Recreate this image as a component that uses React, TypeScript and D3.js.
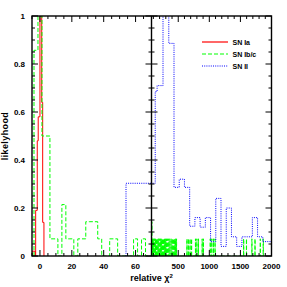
import React, { useEffect, useRef } from 'react';
import * as d3 from 'd3';

// SN Ia, fine bins near zero
const redEdges = [-5, -3, -2.7, -1.7, -1.1, 0, 1.1, 1.7, 2.5];
const redValues = [0.02, 0, 0.19, 0.48, 0.58, 1, 0.64, 0.14];

// SN Ib/c, counts in bins of 2.5 starting at -3.75 (normalised by 14)
const greenStart = -3.75;
const greenWidth = 2.5;
const greenTotal = 14;
const greenCounts = [12, 14, 7, 7, 1, 1, 0, 3, 1, 1, 0, 1, 1, 2, 2, 2, 1, 0, 0, 1, 1, 0, 0, 0, 0, 1, 0, 1, 0, 0];
// isolated single-count bins further out (relative chi2 values)
const greenSingles = [
  82, 90, 100, 112, 125, 136, 150, 163, 178, 190, 205, 218, 232, 248, 262, 280, 296, 312, 330, 348, 365,
  385, 402, 420, 438, 455, 472, 640, 662, 690, 714, 778, 800, 824, 884, 904, 1016, 1040, 1068, 1092,
  1552, 1598, 1686, 1734, 1820, 1868,
];
const greenDoubles = [76];

// SN II, coarse bins
const blueEdges = [
  54, 130, 160, 255, 348, 432, 516, 600, 684, 768, 852, 936, 1020, 1104, 1188, 1272, 1356, 1440, 1524,
  1608, 1692, 1776, 1860, 1944, 2028,
];
const blueValues = [
  0.303, 0.685, 0.71, 1.05, 0.886, 0.286, 0.32, 0.286, 0.124, 0.16, 0.12, 0.16, 0.06, 0.24, 0.04, 0.2,
  0.08, 0.04, 0.08, 0.08, 0.16, 0.08, 0.06, 0.06,
];

const yTicks = [0, 0.2, 0.4, 0.6, 0.8, 1];
const yTickLabels = ['0', '0.2', '0.4', '0.6', '0.8', '1'];
const leftTicks = [0, 20, 40, 60];
const rightTicks = [500, 1000, 1500, 2000];

const legendLabels = ['SN Ia', 'SN Ib/c', 'SN II'];
const font = "'Liberation Sans', Arial, sans-serif";

const stepPoints = (edges: number[], values: number[]) => {
  const pts: [number, number][] = [[edges[0], 0]];
  values.forEach((v, i) => {
    pts.push([edges[i], v]);
    pts.push([edges[i + 1], v]);
  });
  pts.push([edges[edges.length - 1], 0]);
  return pts;
};

const App = () => {
  const svgRef = useRef<SVGSVGElement>(null);

  useEffect(() => {
    const svg = d3.select(svgRef.current);
    svg.selectAll('*').remove();

    const x0 = 32;
    const xm = 151.5;
    const x1 = 271.5;
    const top = 16;
    const bottom = 256;

    const y = d3.scaleLinear().domain([0, 1]).range([bottom, top]);
    const xLeft = d3.scaleLinear().domain([-5, 70]).range([x0, xm]);
    const xRight = d3.scaleLinear().domain([70, 2000]).range([xm, x1]);

    // green histogram
    const counts = new Map<number, number>();
    greenCounts.forEach((c, i) => counts.set(i, c));
    const addAt = (v: number, c: number) => {
      const k = Math.floor((v - greenStart) / greenWidth);
      counts.set(k, (counts.get(k) || 0) + c);
    };
    greenSingles.forEach((v) => addAt(v, 1));
    greenDoubles.forEach((v) => addAt(v, 2));
    const maxK = d3.max(Array.from(counts.keys())) as number;
    const greenEdges = d3.range(maxK + 2).map((k) => greenStart + k * greenWidth);
    const greenValues = d3.range(maxK + 1).map((k) => (counts.get(k) || 0) / greenTotal);

    const series = [
      { pts: stepPoints(redEdges, redValues), color: '#ff0000', dash: null, width: 1 },
      { pts: stepPoints(greenEdges, greenValues), color: '#00ff00', dash: '4,2', width: 1 },
      { pts: stepPoints(blueEdges, blueValues), color: '#0000ff', dash: '1,1.2', width: 1 },
    ];

    const defs = svg.append('defs');
    const panels = [
      { x: xLeft, a: x0, b: xm, id: 'clipL' },
      { x: xRight, a: xm, b: x1, id: 'clipR' },
    ];
    panels.forEach((p) => {
      defs
        .append('clipPath')
        .attr('id', p.id)
        .append('rect')
        .attr('x', p.a)
        .attr('y', top)
        .attr('width', p.b - p.a)
        .attr('height', bottom - top);
      const g = svg.append('g').attr('clip-path', `url(#${p.id})`);
      series.forEach((s) => {
        const line = d3
          .line<[number, number]>()
          .x((d) => p.x(d[0]))
          .y((d) => y(d[1]));
        g.append('path')
          .attr('d', line(s.pts))
          .attr('fill', 'none')
          .attr('stroke', s.color)
          .attr('stroke-width', s.width)
          .attr('stroke-dasharray', s.dash);
      });
    });

    // ticks
    const tk = svg.append('g').attr('stroke', '#000').attr('stroke-width', 1);
    const yMinor = d3.range(0, 1.0001, 0.05);
    yMinor.forEach((v) => {
      const major = Math.abs(v * 5 - Math.round(v * 5)) < 1e-6;
      const len = major ? 6 : 3;
      const yy = y(v);
      tk.append('line').attr('x1', x0).attr('x2', x0 + len).attr('y1', yy).attr('y2', yy);
      tk.append('line').attr('x1', x1).attr('x2', x1 - len).attr('y1', yy).attr('y2', yy);
      tk.append('line').attr('x1', xm - len).attr('x2', xm + len).attr('y1', yy).attr('y2', yy);
    });
    const xTicksFor = (scale: d3.ScaleLinear<number, number>, vals: number[], majorEvery: number) => {
      vals.forEach((v) => {
        const major = Math.abs(v / majorEvery - Math.round(v / majorEvery)) < 1e-6;
        const len = major ? 6 : 3;
        const xx = scale(v);
        tk.append('line').attr('x1', xx).attr('x2', xx).attr('y1', bottom).attr('y2', bottom - len);
        tk.append('line').attr('x1', xx).attr('x2', xx).attr('y1', top).attr('y2', top + len);
      });
    };
    xTicksFor(xLeft, d3.range(-5, 70, 5), 20);
    xTicksFor(xRight, d3.range(100, 2000, 100), 500);

    // frame
    svg
      .append('rect')
      .attr('x', x0)
      .attr('y', top)
      .attr('width', x1 - x0)
      .attr('height', bottom - top)
      .attr('fill', 'none')
      .attr('stroke', '#000')
      .attr('stroke-width', 1.4);
    svg
      .append('line')
      .attr('x1', xm)
      .attr('x2', xm)
      .attr('y1', top)
      .attr('y2', bottom)
      .attr('stroke', '#000')
      .attr('stroke-width', 1.4);

    // tick labels
    const lab = svg
      .append('g')
      .attr('font-family', font)
      .attr('font-weight', 'bold')
      .attr('font-size', 8)
      .attr('fill', '#000');
    yTicks.forEach((v, i) => {
      lab
        .append('text')
        .attr('x', 25)
        .attr('y', y(v))
        .attr('dy', '0.35em')
        .attr('text-anchor', 'end')
        .text(yTickLabels[i]);
    });
    leftTicks.forEach((v) => {
      lab.append('text').attr('x', xLeft(v)).attr('y', 269).attr('text-anchor', 'middle').text(String(v));
    });
    rightTicks.forEach((v) => {
      lab.append('text').attr('x', xRight(v)).attr('y', 269).attr('text-anchor', 'middle').text(String(v));
    });

    // axis labels
    const xl = svg
      .append('text')
      .attr('x', xm)
      .attr('y', 281)
      .attr('text-anchor', 'middle')
      .attr('font-family', font)
      .attr('font-weight', 'bold')
      .attr('font-size', 9)
      .text('relative χ');
    xl.append('tspan').attr('dy', -3.5).attr('font-size', 6).text('2');
    svg
      .append('text')
      .attr('transform', `translate(8, ${(top + bottom) / 2}) rotate(-90)`)
      .attr('text-anchor', 'middle')
      .attr('font-family', font)
      .attr('font-weight', 'bold')
      .attr('font-size', 9)
      .attr('letter-spacing', 0.4)
      .text('likelyhood');

    // legend
    const lg = svg.append('g');
    const legendY = [42, 54, 66];
    legendLabels.forEach((t, i) => {
      const s = series[i];
      lg.append('line')
        .attr('x1', 202)
        .attr('x2', 228)
        .attr('y1', legendY[i])
        .attr('y2', legendY[i])
        .attr('stroke', s.color)
        .attr('stroke-width', 1.2)
        .attr('stroke-dasharray', s.dash);
      lg.append('text')
        .attr('x', 232.5)
        .attr('y', legendY[i] + 2.5)
        .attr('font-family', font)
        .attr('font-weight', 'bold')
        .attr('font-size', 7)
        .text(t);
    });
  }, []);

  return (
    <div>
      <svg
        ref={svgRef}
        width={287}
        height={287}
        style={{ position: 'absolute', left: 0, top: 0, background: '#fff' }}
      ></svg>
    </div>
  );
};

export default App;
